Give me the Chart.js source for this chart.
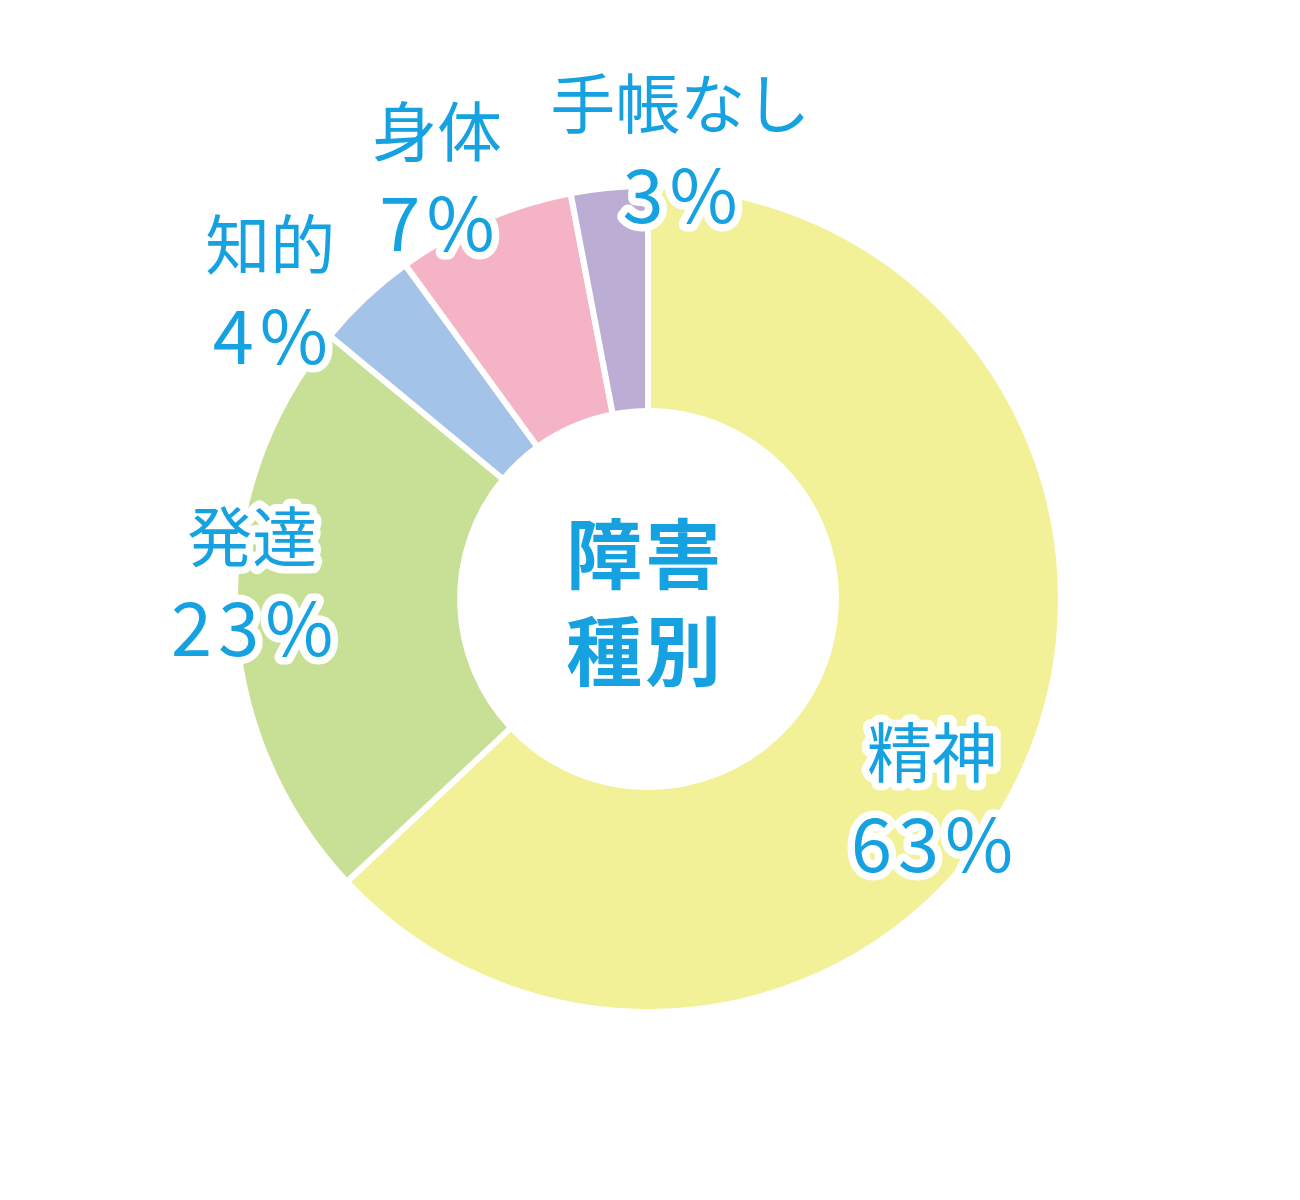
<!DOCTYPE html>
<html>
<head>
<meta charset="utf-8">
<script src="https://cdn.jsdelivr.net/npm/chart.js@4"></script>
<style>
  body { margin: 0; background: #fff; }
</style>
</head>
<body>
<canvas id="type-chart" width="1300" height="1200"></canvas>
<script>
const categories = ['精神', '発達', '知的', '身体', '手帳なし'];
const shares = [63, 23, 4, 7, 3];
const sliceColors = ['#f2f197', '#c8df96', '#a3c4e8', '#f5b4c5', '#bbadd3'];
const centerTitle = ['障害', '種別'];

// where each label block sits, relative to the outer middle of its slice
const labelNudge = [
  { dx: -95, dy: 35 },
  { dx: 17, dy: -30 },
  { dx: -95, dy: -8 },
  { dx: -47, dy: -43 },
  { dx: 71, dy: -39 }
];

const textBlue = '#16a2e0';
const jpFont = '"Noto Sans CJK JP", "Noto Sans", sans-serif';

const labelPlugin = {
  id: 'sliceLabels',
  afterDatasetsDraw(chart) {
    const ctx = chart.ctx;
    const arcs = chart.getDatasetMeta(0).data;
    ctx.save();
    ctx.textAlign = 'center';
    ctx.textBaseline = 'middle';
    ctx.lineJoin = 'round';
    arcs.forEach((arc, i) => {
      const p = arc.getProps(['x', 'y', 'startAngle', 'endAngle', 'outerRadius'], true);
      const mid = (p.startAngle + p.endAngle) / 2;
      const bx = p.x + Math.cos(mid) * p.outerRadius + labelNudge[i].dx;
      const by = p.y + Math.sin(mid) * p.outerRadius + labelNudge[i].dy;
      const lines = [categories[i], shares[i] + '%'];
      lines.forEach((txt, k) => {
        const ty = by + (k === 0 ? -46 : 46);
        // letter spacing adds a trailing gap, so shift to keep it centred
        const tx = k === 0 ? bx : bx + 3;
        ctx.font = k === 0 ? '400 65px ' + jpFont : '400 74px ' + jpFont;
        ctx.letterSpacing = k === 0 ? '0px' : '6px';
        ctx.lineWidth = 15;
        ctx.strokeStyle = '#ffffff';
        ctx.strokeText(txt, tx, ty);
        ctx.fillStyle = textBlue;
        ctx.fillText(txt, tx, ty);
      });
    });

    // title in the hole
    const c = arcs[0];
    ctx.letterSpacing = '3px';
    ctx.font = '700 76px ' + jpFont;
    ctx.fillStyle = textBlue;
    ctx.fillText(centerTitle[0], c.x - 3, c.y - 45);
    ctx.fillText(centerTitle[1], c.x - 3, c.y + 52);
    ctx.restore();
  }
};

const typeChart = new Chart(document.getElementById('type-chart'), {
  type: 'doughnut',
  data: {
    labels: categories,
    datasets: [{
      data: shares,
      backgroundColor: sliceColors,
      borderColor: '#ffffff',
      borderWidth: 6
    }]
  },
  options: {
    responsive: false,
    animation: false,
    cutout: '45.5%',
    layout: {
      padding: { left: 232, right: 236, top: 183, bottom: 185 }
    },
    plugins: {
      legend: { display: false },
      tooltip: { enabled: false }
    }
  },
  plugins: [labelPlugin]
});
</script>
</body>
</html>
